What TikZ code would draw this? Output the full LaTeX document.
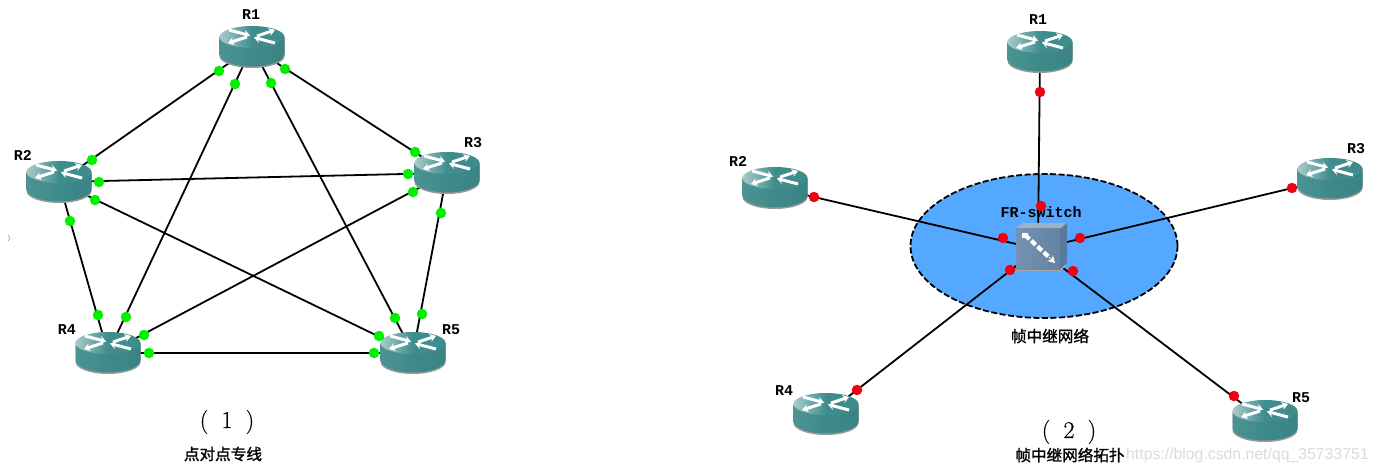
\documentclass[tikz,border=0pt]{standalone}
\usepackage{fontspec}
\usetikzlibrary{arrows.meta,calc,shapes.geometric}
\newfontfamily\cjkb[FakeBold=1.5]{Noto Sans CJK SC}
\newfontfamily\numf[FakeBold=0.6]{Latin Modern Roman}
\setmonofont{Liberation Mono}[BoldFont=* Bold]
\setsansfont{Liberation Sans}
\definecolor{greendot}{HTML}{00F000}
\definecolor{reddot}{HTML}{F00010}
\definecolor{cloudblue}{HTML}{55A8FF}
\definecolor{routertop}{HTML}{3F8C8C}
\definecolor{routerbody}{HTML}{3D8A8A}
\tikzset{
 anchorbox/.style={inner sep=0pt,minimum width=66pt,minimum height=42pt},
 link/.style={draw=black,line width=1.8pt},
 gdot/.style={circle,fill=greendot,inner sep=0pt,minimum size=10.5pt},
 rdot/.style={circle,fill=reddot,inner sep=0pt,minimum size=10.5pt},
 rlabel/.style={font=\ttfamily\bfseries\fontsize{15}{15}\selectfont,inner sep=0pt},
 capt/.style={font=\cjkb\fontsize{15.6}{16}\selectfont,inner sep=0pt},
 numcap/.style={font=\numf\fontsize{24}{24}\selectfont,inner sep=0pt},
 warrow/.style={white,line width=3pt,-{Stealth[length=6pt,width=8pt]}},
 router/.pic={
  \fill[black!40] (-32.5,-8) -- (-32.5,9) arc[start angle=180,end angle=0,x radius=32.5,y radius=12] -- (32.5,-8) -- cycle;
  \path[left color=routerbody!92!white,right color=routerbody!95!black,middle color=routerbody]
    (-32.5,-10) -- (-32.5,7) arc[start angle=180,end angle=0,x radius=32.5,y radius=12.5] -- (32.5,-10) -- cycle;
  \path[left color=routertop!45!white,right color=routertop,middle color=routertop]
    (0,-10) ellipse[x radius=32.5,y radius=11];
  \draw[warrow] (5,-11) -- (23,-17);
  \draw[warrow] (-5,-10) -- (-24,-4);
  \draw[warrow] (-23,-17) -- (-2,-11.5);
  \draw[warrow] (23,-4) -- (2,-9.5);
 }
}
\begin{document}
\begin{tikzpicture}[x=1pt,y=-1pt]
\useasboundingbox (0,0) rectangle (1376,473);
\fill[white] (0,0) rectangle (1376,473);
% left anchors
\node[anchorbox] (A1) at (252,47) {};
\node[anchorbox] (A2) at (59,182) {};
\node[anchorbox] (A3) at (447,173) {};
\node[anchorbox] (A4) at (108,353) {};
\node[anchorbox] (A5) at (413,353) {};
% right anchors
\node[anchorbox] (B1) at (1040,52) {};
\node[anchorbox] (B2) at (775,188) {};
\node[anchorbox] (B3) at (1330,179) {};
\node[anchorbox] (B4) at (826,414) {};
\node[anchorbox] (B5) at (1265,421) {};
\node[ellipse,draw=black,dash pattern=on 6pt off 2.5pt,line width=1.8pt,fill=cloudblue,minimum width=267pt,minimum height=144pt,inner sep=0pt] (cloud) at (1044,246) {};
\node[inner sep=0pt,minimum width=44pt,minimum height=40pt] (SW) at (1038,249) {};
% left connectors
\foreach \a/\b in {A1/A2,A1/A3,A1/A4,A1/A5,A2/A3,A2/A4,A2/A5,A3/A4,A3/A5,A4/A5}
  \draw[link] (\a.center) -- (\b.center);
% right connectors
\foreach \a in {B1,B2,B3,B4,B5}
  \draw[link] (\a.center) -- (SW.center);
% routers
\foreach \a in {A1,A2,A3,A4,A5,B1,B2,B3,B4,B5}
  \pic at (\a.center) {router};
% switch
\fill[fill=black!35] (1016,269) -- (1060,269) -- (1066,264) -- (1066,266) -- (1060,271) -- (1016,271) -- cycle;
\fill[fill={rgb,255:red,156;green,178;blue,198}] (1016,229) -- (1022,223) -- (1067,223) -- (1060,229) -- cycle;
\fill[fill={rgb,255:red,88;green,122;blue,158}] (1060,229) -- (1067,223) -- (1067,263) -- (1060,269) -- cycle;
\path[left color={rgb,255:red,118;green,146;blue,176},right color={rgb,255:red,100;green,130;blue,162}] (1016,229) rectangle (1060,269);
\draw[line width=4.2pt,white,dash pattern=on 6pt off 2.5pt] (1025,235) -- (1050,258);
\draw[white,line width=1pt,-{Stealth[length=7pt,width=8pt]}] (1049,257) -- (1055,263);
\fill[white] (1022,233) -- (1028,233) -- (1028,238) -- (1022,238) -- cycle;
% labels
\node[rlabel] (l1) at (251,15) {R1};
\node[rlabel] (l2) at (23,155) {R2};
\node[rlabel] (l3) at (473,143) {R3};
\node[rlabel] (l4) at (67,330) {R4};
\node[rlabel] (l5) at (451,330) {R5};
\node[rlabel] (m1) at (1038,20) {R1};
\node[rlabel] (m2) at (738,161) {R2};
\node[rlabel] (m3) at (1356,149) {R3};
\node[rlabel] (m4) at (784,391) {R4};
\node[rlabel] (m5) at (1301,398) {R5};
\node[rlabel] (frs) at (1041,212) {FR-switch};
\node[capt] (c0) at (1050,336) {帧中继网络};
\node[numcap] (c1) at (227,422) {(\hspace{0.55em}1\hspace{0.55em})};
\node[capt] (c2) at (223,454) {点对点专线};
\node[numcap] (c3) at (1069,432) {(\hspace{0.55em}2\hspace{0.55em})};
\node[capt] (c4) at (1070,455) {帧中继网络拓扑};
\node[anchor=west,inner sep=0pt,font=\sffamily\fontsize{15.8}{16}\selectfont,text=black!14] (wm) at (1126,455) {https://blog.csdn.net/qq\_35733751};
\draw[black!45,line width=.5pt] (8,235) -- (10,238) -- (8,241);
% green dots
\foreach \n/\x/\y in {g1/219/71,g2/92/160,g3/285/69,g4/415/152,g5/235/84,g6/126/317,g7/271/83,g8/395/318,g9/99/182,g10/408/174,g11/70/221,g12/98/315,g13/95/200,g14/379/336,g15/413/192,g16/144/335,g17/441/213,g18/422/314,g19/149/353,g20/374/353}
  \node[gdot] (\n) at (\x,\y) {};
% red dots
\foreach \n/\x/\y in {r1/1040/92,r2/1041/206,r3/814/197,r4/1003/238,r5/1292/188,r6/1080/238,r7/857/390,r8/1010/270,r9/1234/396,r10/1073/271}
  \node[rdot] (\n) at (\x,\y) {};
\end{tikzpicture}
\end{document}
